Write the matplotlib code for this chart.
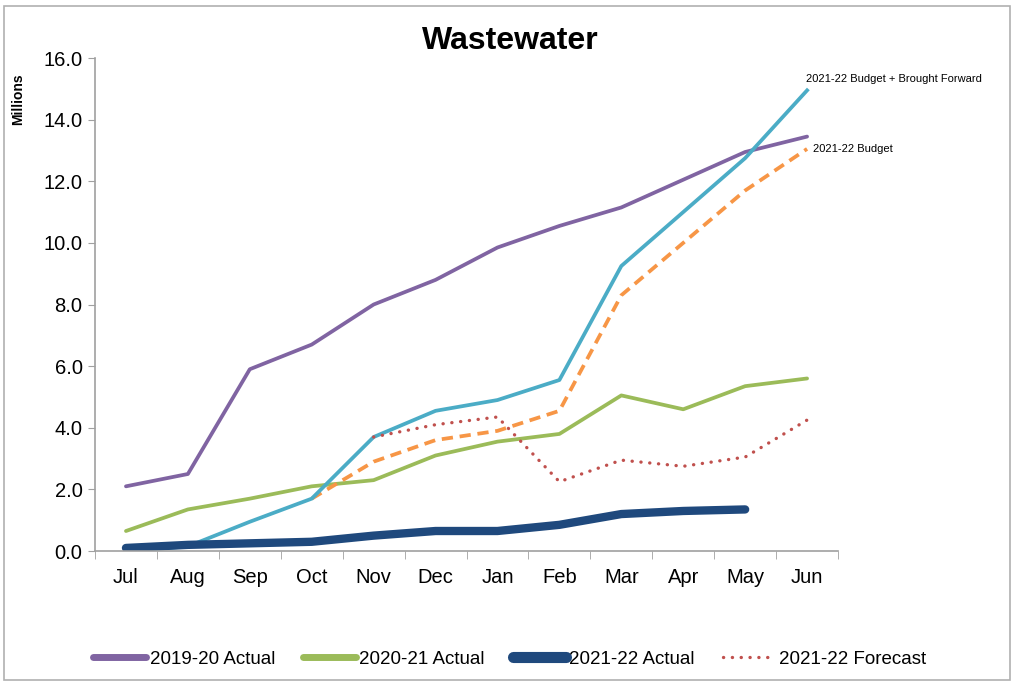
import matplotlib
matplotlib.use("Agg")
import matplotlib.pyplot as plt
from matplotlib.patches import Rectangle
import numpy as np

plt.rcParams['font.family'] = ['Liberation Sans', 'DejaVu Sans']

months = ["Jul", "Aug", "Sep", "Oct", "Nov", "Dec", "Jan", "Feb", "Mar", "Apr", "May", "Jun"]
actual_1920 = [2.1, 2.5, 5.9, 6.7, 8.0, 8.8, 9.85, 10.55, 11.15, 12.05, 12.95, 13.45]
actual_2021 = [0.65, 1.35, 1.7, 2.1, 2.3, 3.1, 3.55, 3.8, 5.05, 4.6, 5.35, 5.6]
actual_2122 = [0.1, 0.2, 0.25, 0.3, 0.5, 0.65, 0.65, 0.85, 1.2, 1.3, 1.35]
forecast_2122 = [None, None, None, None, 3.7, 4.1, 4.35, 2.25, 2.95, 2.75, 3.05, 4.25]
budget_bf = [0.0, 0.15, 0.95, 1.7, 3.7, 4.55, 4.9, 5.55, 9.25, 11.0, 12.75, 14.95]
budget = [None, None, None, 1.7, 2.9, 3.6, 3.9, 4.55, 8.3, 10.0, 11.7, 13.05]

def arr(v):
    return np.array([np.nan if x is None else x for x in v], dtype=float)

fig = plt.figure(figsize=(10.26, 6.84), dpi=100)
ax = fig.add_axes([0.0926, 0.1944, 0.7242, 0.7208])

x = np.arange(len(months))
ax.plot(x, actual_1920, color="#8064A2", lw=2.7, solid_capstyle="round", label="2019-20 Actual")
ax.plot(x, actual_2021, color="#9BBB59", lw=2.7, solid_capstyle="round", label="2020-21 Actual")
ax.plot(x, arr(budget), color="#F79646", lw=2.7, ls=(0, (3, 1.8)))
ax.plot(x, budget_bf, color="#4BACC6", lw=2.7)
ax.plot(x, arr(forecast_2122), color="#C0504D", lw=2.4, ls=(0, (0.05, 2.6)),
        dash_capstyle="round", label="2021-22 Forecast")
ax.plot(x[:len(actual_2122)], actual_2122, color="#1F497D", lw=6,
        solid_capstyle="round", label="2021-22 Actual")

# direct labels for the budget lines
ax.text(x[-1] - 0.02, budget_bf[-1] + 0.2, "2021-22 Budget + Brought Forward",
        fontsize=8, ha="left", va="bottom")
ax.text(x[-1] + 0.1, budget[-1], "2021-22 Budget", fontsize=8, ha="left", va="center")

ax.set_xlim(-0.5, len(months) - 0.5)
ax.set_ylim(0, 16)
ax.set_yticks(np.arange(0, 16.1, 2))
ax.set_yticklabels([f"{v:.1f}" for v in np.arange(0, 16.1, 2)], fontsize=14.5)
ax.set_xticks(x)
ax.set_xticklabels(months, fontsize=14.5)
ax.set_xticks(np.arange(-0.5, len(months), 1), minor=True)
ax.tick_params(axis="x", which="major", length=0, pad=12)
ax.tick_params(axis="x", which="minor", length=6, color="#A0A0A0", direction="out")
ax.tick_params(axis="y", length=5, color="#A0A0A0", direction="out", pad=4)
for s in ["top", "right"]:
    ax.spines[s].set_visible(False)
for s in ["left", "bottom"]:
    ax.spines[s].set_color("#A0A0A0")
    ax.spines[s].set_linewidth(1.2)

fig.text(0.497, 0.94, "Wastewater", fontsize=23, fontweight="bold", ha="center", va="center")
fig.text(0.018, 0.855, "Millions", fontsize=10, fontweight="bold", rotation=90, ha="center", va="center")

handles, labels = ax.get_legend_handles_labels()
order = [0, 1, 3, 2]
leg = fig.legend([handles[i] for i in order], [labels[i] for i in order],
                 loc="center", bbox_to_anchor=(0.497, 0.036), ncol=4, frameon=False,
                 fontsize=13.5, handlelength=2.8, handletextpad=0.2, columnspacing=1.5)
for h in leg.get_lines()[:3]:
    h.set_linewidth(5)
leg.get_lines()[2].set_linewidth(8)

fig.patches.append(Rectangle((0.004, 0.006), 0.98, 0.985, transform=fig.transFigure,
                             fill=False, edgecolor="#B0B0B0", lw=1.2))

fig.savefig("out.png", dpi=100)
